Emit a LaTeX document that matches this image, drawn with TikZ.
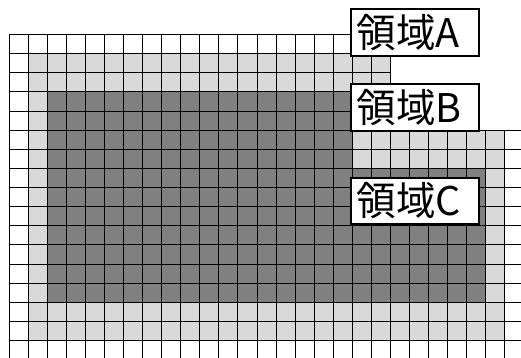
\documentclass[tikz,border=0pt]{standalone}
\usepackage{fontspec}
\newfontfamily\cjk{Noto Sans CJK JP}
\definecolor{lightc}{HTML}{D9D9D9}
\definecolor{darkc}{HTML}{808080}
\tikzset{
  gridline/.style={black, line width=1.4pt, line cap=rect},
  labelbox/.style={draw=black, line width=1.8pt, fill=white, anchor=north west,
    minimum width=128pt, minimum height=47pt, text width=116pt, inner xsep=6pt,
    inner ysep=0pt, align=left, font=\cjk\fontsize{39.5}{41}\selectfont}
}
\begin{document}
\begin{tikzpicture}[x=1pt,y=-1pt]
\useasboundingbox (0,0) rectangle (521,358);
\fill[white] (0,0) rectangle (521,358);
\begin{scope}
\clip (0,0) rectangle (521,358);
\fill[lightc] (28.5,53.5) rectangle (390.5,130.5);
\fill[lightc] (28.5,130.5) rectangle (504.5,340.5);
\fill[darkc] (47.5,91.5) rectangle (352.5,168.5);
\fill[darkc] (47.5,168.5) rectangle (485.5,302.5);
% upper part: rows 0-4, columns 0-19
\foreach \rr in {0,...,4}
  \draw[gridline] (9.5,{round(34+19.125*\rr)+0.5}) -- (390.5,{round(34+19.125*\rr)+0.5});
\foreach \cc in {0,...,20}
  \draw[gridline] ({round(9+19.04*\cc)+0.5},34.5) -- ({round(9+19.04*\cc)+0.5},130.5);
% lower part: rows 5-16, columns 0-26, cut by the page
\foreach \rr in {5,...,16}
  \draw[gridline] (9.5,{round(34+19.125*\rr)+0.5}) -- (530,{round(34+19.125*\rr)+0.5});
\foreach \cc in {0,...,26}
  \draw[gridline] ({round(9+19.04*\cc)+0.5},130.5) -- ({round(9+19.04*\cc)+0.5},365);
\end{scope}
\node[labelbox] (la) at (350,8) {領域A};
\node[labelbox] (lb) at (350,83) {領域B};
\node[labelbox, minimum height=46pt] (lc) at (350,177) {領域C};
\end{tikzpicture}
\end{document}
